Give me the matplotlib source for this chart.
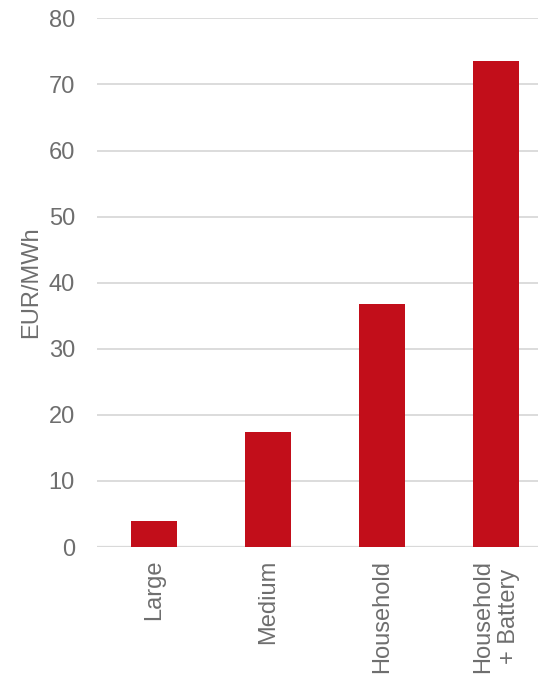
import numpy as np
import matplotlib
matplotlib.use("Agg")
import matplotlib.pyplot as plt

# cost per segment
categories = ["Large", "Medium", "Household", "Household\n+ Battery"]
values = [3.9, 17.4, 36.8, 73.6]
yticks = [0, 10, 20, 30, 40, 50, 60, 70, 80]

bar_color = "#C20E1A"
text_color = "#6E6E6E"
grid_color = "#D9D9D9"

plt.rcParams["font.family"] = ["Liberation Sans", "DejaVu Sans"]

fig = plt.figure(figsize=(5.38, 6.74), dpi=100)
ax = fig.add_axes([0.1807, 0.1884, 0.8472, 0.7844])

x = np.arange(len(categories))
ax.bar(x, values, width=0.40, color=bar_color, zorder=3)

ax.set_xlim(-0.5, len(categories) - 0.5)
ax.set_ylim(0, 80)
ax.set_yticks(yticks)
ax.set_xticks(x)
ax.set_xticklabels(categories, rotation=90, ha="center", va="top",
                   multialignment="center", linespacing=1.25)

ax.yaxis.grid(True, color=grid_color, linewidth=1.3, zorder=0)
ax.set_axisbelow(True)
for side in ["top", "right", "left", "bottom"]:
    ax.spines[side].set_visible(False)
ax.axhline(0, color=grid_color, linewidth=1.6, zorder=2)

ax.tick_params(axis="both", length=0, labelsize=17, colors=text_color)
ax.tick_params(axis="y", pad=16)
ax.tick_params(axis="x", pad=9)
ax.set_ylabel("EUR/MWh", fontsize=17, color=text_color, labelpad=5)

fig.savefig("out.png", dpi=100)
